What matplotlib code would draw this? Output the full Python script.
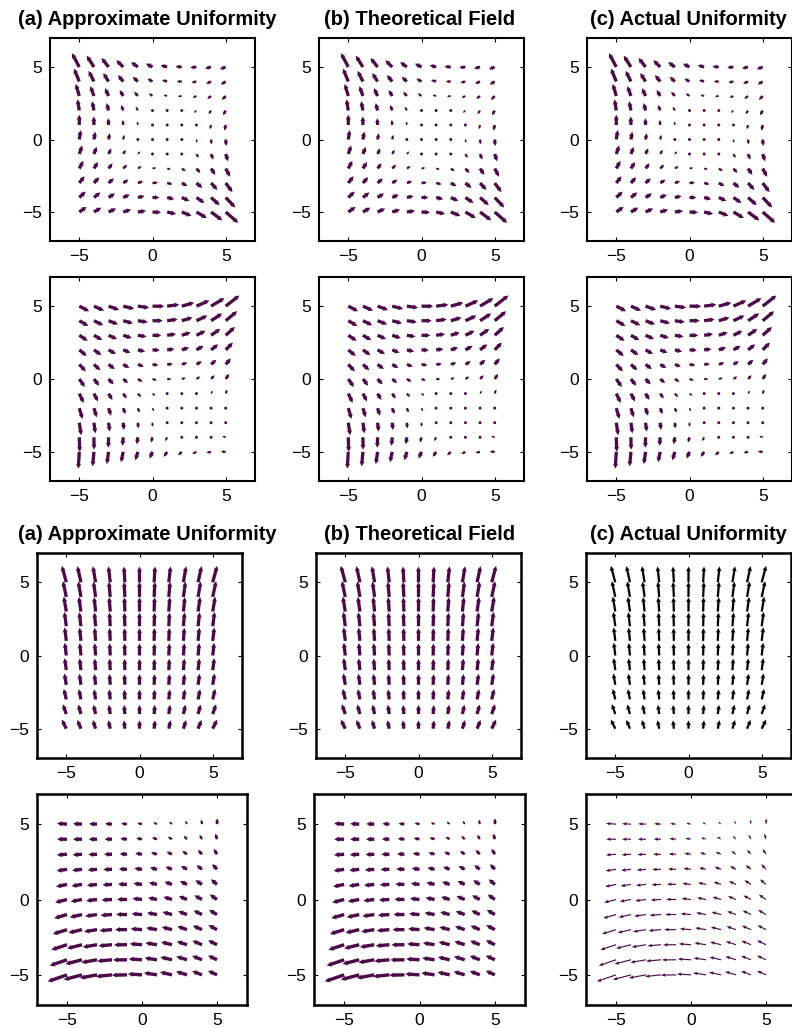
import numpy as np
import matplotlib.pyplot as plt

plt.rcParams['font.family'] = ['Liberation Sans', 'DejaVu Sans']

# sample points, same in every panel
grid = [-5, -4, -3, -2, -1, 0, 1, 2, 3, 4, 5]
ticks = [-5, 0, 5]
titles = ['(a) Approximate Uniformity', '(b) Theoretical Field', '(c) Actual Uniformity']

# field components
# each table: rows from y = 5 (top) down to y = -5, columns x = -5 .. 5
u_row1 = [
    [-0.50, -0.49, -0.48, -0.47, -0.46, -0.45, -0.44, -0.43, -0.42, -0.41, -0.40],
    [-0.36, -0.36, -0.36, -0.36, -0.35, -0.35, -0.35, -0.34, -0.34, -0.34, -0.34],
    [-0.24, -0.24, -0.24, -0.24, -0.25, -0.25, -0.25, -0.26, -0.26, -0.26, -0.26],
    [-0.12, -0.12, -0.13, -0.14, -0.14, -0.15, -0.16, -0.16, -0.17, -0.17, -0.18],
    [0.00, -0.01, -0.02, -0.03, -0.04, -0.05, -0.06, -0.06, -0.07, -0.08, -0.08],
    [0.10, 0.09, 0.08, 0.07, 0.06, 0.05, 0.05, 0.04, 0.04, 0.03, 0.03],
    [0.20, 0.19, 0.18, 0.17, 0.16, 0.16, 0.15, 0.15, 0.15, 0.15, 0.16],
    [0.28, 0.28, 0.27, 0.27, 0.26, 0.26, 0.26, 0.27, 0.27, 0.29, 0.30],
    [0.36, 0.36, 0.36, 0.36, 0.36, 0.37, 0.37, 0.39, 0.41, 0.43, 0.46],
    [0.44, 0.44, 0.44, 0.45, 0.46, 0.47, 0.49, 0.52, 0.55, 0.59, 0.65],
    [0.50, 0.51, 0.52, 0.54, 0.56, 0.58, 0.61, 0.66, 0.71, 0.77, 0.85],
]
v_row1 = [
    [0.95, 0.78, 0.62, 0.47, 0.34, 0.23, 0.12, 0.03, -0.04, -0.10, -0.15],
    [0.89, 0.73, 0.58, 0.44, 0.32, 0.20, 0.10, 0.00, -0.08, -0.15, -0.21],
    [0.83, 0.68, 0.54, 0.41, 0.29, 0.18, 0.07, -0.03, -0.12, -0.20, -0.27],
    [0.77, 0.64, 0.51, 0.38, 0.26, 0.15, 0.04, -0.06, -0.16, -0.25, -0.33],
    [0.71, 0.59, 0.47, 0.35, 0.24, 0.13, 0.02, -0.09, -0.19, -0.29, -0.39],
    [0.65, 0.54, 0.43, 0.32, 0.21, 0.10, -0.01, -0.12, -0.23, -0.34, -0.45],
    [0.59, 0.49, 0.39, 0.29, 0.18, 0.08, -0.04, -0.15, -0.27, -0.39, -0.51],
    [0.53, 0.45, 0.36, 0.26, 0.16, 0.05, -0.06, -0.18, -0.31, -0.44, -0.57],
    [0.47, 0.40, 0.32, 0.23, 0.13, 0.03, -0.09, -0.21, -0.34, -0.48, -0.63],
    [0.41, 0.35, 0.28, 0.20, 0.10, 0.00, -0.12, -0.24, -0.38, -0.53, -0.69],
    [0.35, 0.30, 0.24, 0.17, 0.08, -0.03, -0.14, -0.27, -0.42, -0.58, -0.75],
]

u_row2 = [
    [0.67, 0.69, 0.72, 0.75, 0.77, 0.80, 0.83, 0.85, 0.88, 0.91, 0.93],
    [0.62, 0.64, 0.65, 0.67, 0.68, 0.70, 0.72, 0.73, 0.75, 0.76, 0.78],
    [0.57, 0.57, 0.58, 0.59, 0.59, 0.60, 0.61, 0.61, 0.62, 0.63, 0.63],
    [0.51, 0.51, 0.51, 0.50, 0.50, 0.50, 0.50, 0.50, 0.49, 0.49, 0.49],
    [0.45, 0.44, 0.43, 0.42, 0.41, 0.40, 0.39, 0.38, 0.37, 0.36, 0.35],
    [0.38, 0.36, 0.35, 0.33, 0.32, 0.30, 0.29, 0.27, 0.26, 0.24, 0.23],
    [0.30, 0.28, 0.26, 0.24, 0.22, 0.20, 0.18, 0.16, 0.14, 0.12, 0.10],
    [0.22, 0.19, 0.17, 0.15, 0.12, 0.10, 0.08, 0.05, 0.03, 0.01, -0.02],
    [0.13, 0.10, 0.08, 0.05, 0.03, 0.00, -0.03, -0.05, -0.08, -0.10, -0.13],
    [0.03, 0.01, -0.02, -0.05, -0.07, -0.10, -0.13, -0.15, -0.18, -0.21, -0.23],
    [-0.07, -0.09, -0.12, -0.15, -0.17, -0.20, -0.23, -0.25, -0.28, -0.31, -0.33],
]
v_row2 = [
    [-0.35, -0.31, -0.26, -0.19, -0.11, -0.01, 0.11, 0.24, 0.39, 0.55, 0.73],
    [-0.36, -0.31, -0.25, -0.18, -0.10, 0.00, 0.10, 0.22, 0.35, 0.50, 0.65],
    [-0.38, -0.33, -0.26, -0.19, -0.10, -0.01, 0.09, 0.20, 0.31, 0.44, 0.57],
    [-0.42, -0.36, -0.28, -0.20, -0.12, -0.03, 0.06, 0.16, 0.27, 0.38, 0.50],
    [-0.48, -0.40, -0.32, -0.24, -0.15, -0.06, 0.03, 0.12, 0.22, 0.32, 0.42],
    [-0.55, -0.46, -0.37, -0.28, -0.19, -0.10, -0.01, 0.08, 0.17, 0.26, 0.35],
    [-0.64, -0.54, -0.44, -0.34, -0.24, -0.15, -0.06, 0.03, 0.12, 0.20, 0.28],
    [-0.74, -0.63, -0.52, -0.41, -0.31, -0.21, -0.12, -0.03, 0.06, 0.14, 0.21],
    [-0.86, -0.73, -0.61, -0.50, -0.39, -0.28, -0.18, -0.09, -0.01, 0.07, 0.15],
    [-1.00, -0.85, -0.72, -0.59, -0.48, -0.36, -0.26, -0.16, -0.07, 0.01, 0.08],
    [-1.15, -0.99, -0.84, -0.71, -0.58, -0.46, -0.34, -0.24, -0.14, -0.06, 0.02],
]

u_row3 = [
    [-0.30, -0.24, -0.18, -0.12, -0.06, 0.00, 0.06, 0.12, 0.18, 0.24, 0.30],
    [-0.23, -0.18, -0.14, -0.09, -0.05, 0.00, 0.05, 0.09, 0.14, 0.18, 0.23],
    [-0.17, -0.14, -0.10, -0.07, -0.03, 0.00, 0.03, 0.07, 0.10, 0.14, 0.17],
    [-0.13, -0.11, -0.08, -0.05, -0.03, 0.00, 0.03, 0.05, 0.08, 0.11, 0.13],
    [-0.11, -0.09, -0.06, -0.04, -0.02, 0.00, 0.02, 0.04, 0.06, 0.09, 0.11],
    [-0.10, -0.08, -0.06, -0.04, -0.02, 0.00, 0.02, 0.04, 0.06, 0.08, 0.10],
    [-0.11, -0.09, -0.06, -0.04, -0.02, 0.00, 0.02, 0.04, 0.06, 0.09, 0.11],
    [-0.13, -0.11, -0.08, -0.05, -0.03, 0.00, 0.03, 0.05, 0.08, 0.11, 0.13],
    [-0.17, -0.14, -0.10, -0.07, -0.03, 0.00, 0.03, 0.07, 0.10, 0.14, 0.17],
    [-0.23, -0.18, -0.14, -0.09, -0.05, 0.00, 0.05, 0.09, 0.14, 0.18, 0.23],
    [-0.30, -0.24, -0.18, -0.12, -0.06, 0.00, 0.06, 0.12, 0.18, 0.24, 0.30],
]
v_row3 = [
    [1.12, 1.10, 1.09, 1.08, 1.07, 1.07, 1.07, 1.08, 1.09, 1.10, 1.12],
    [1.07, 1.05, 1.04, 1.03, 1.02, 1.02, 1.02, 1.03, 1.04, 1.05, 1.07],
    [1.02, 1.00, 0.99, 0.98, 0.97, 0.97, 0.97, 0.98, 0.99, 1.00, 1.02],
    [0.97, 0.95, 0.94, 0.93, 0.92, 0.92, 0.92, 0.93, 0.94, 0.95, 0.97],
    [0.92, 0.90, 0.89, 0.88, 0.87, 0.87, 0.87, 0.88, 0.89, 0.90, 0.92],
    [0.87, 0.85, 0.84, 0.83, 0.82, 0.82, 0.82, 0.83, 0.84, 0.85, 0.87],
    [0.82, 0.80, 0.79, 0.78, 0.77, 0.77, 0.77, 0.78, 0.79, 0.80, 0.82],
    [0.77, 0.75, 0.74, 0.73, 0.72, 0.72, 0.72, 0.73, 0.74, 0.75, 0.77],
    [0.72, 0.70, 0.69, 0.68, 0.67, 0.67, 0.67, 0.68, 0.69, 0.70, 0.72],
    [0.67, 0.65, 0.64, 0.63, 0.62, 0.62, 0.62, 0.63, 0.64, 0.65, 0.67],
    [0.62, 0.60, 0.59, 0.58, 0.57, 0.57, 0.57, 0.58, 0.59, 0.60, 0.62],
]

u_row4 = [
    [-0.67, -0.60, -0.53, -0.46, -0.39, -0.32, -0.25, -0.19, -0.12, -0.05, 0.02],
    [-0.66, -0.60, -0.55, -0.49, -0.44, -0.38, -0.33, -0.27, -0.22, -0.16, -0.11],
    [-0.67, -0.62, -0.58, -0.53, -0.49, -0.45, -0.40, -0.36, -0.31, -0.27, -0.22],
    [-0.69, -0.66, -0.62, -0.58, -0.54, -0.51, -0.47, -0.43, -0.40, -0.36, -0.32],
    [-0.73, -0.70, -0.67, -0.63, -0.60, -0.57, -0.54, -0.50, -0.47, -0.44, -0.41],
    [-0.79, -0.75, -0.72, -0.69, -0.66, -0.63, -0.60, -0.57, -0.54, -0.51, -0.48],
    [-0.85, -0.82, -0.79, -0.76, -0.72, -0.69, -0.66, -0.63, -0.59, -0.56, -0.53],
    [-0.94, -0.90, -0.86, -0.83, -0.79, -0.75, -0.72, -0.68, -0.64, -0.61, -0.57],
    [-1.04, -0.99, -0.95, -0.90, -0.86, -0.81, -0.77, -0.73, -0.68, -0.64, -0.59],
    [-1.15, -1.10, -1.04, -0.99, -0.93, -0.88, -0.82, -0.77, -0.71, -0.66, -0.60],
    [-1.28, -1.21, -1.14, -1.07, -1.01, -0.94, -0.87, -0.80, -0.73, -0.66, -0.60],
]
v_row4 = [
    [0.05, 0.03, 0.02, 0.03, 0.04, 0.07, 0.11, 0.16, 0.22, 0.30, 0.38],
    [0.00, 0.00, 0.00, 0.01, 0.04, 0.07, 0.11, 0.16, 0.22, 0.29, 0.37],
    [-0.05, -0.04, -0.02, 0.00, 0.03, 0.07, 0.11, 0.16, 0.22, 0.29, 0.36],
    [-0.10, -0.07, -0.05, -0.01, 0.03, 0.07, 0.11, 0.17, 0.22, 0.28, 0.35],
    [-0.15, -0.11, -0.07, -0.03, 0.02, 0.07, 0.12, 0.17, 0.22, 0.28, 0.34],
    [-0.20, -0.14, -0.09, -0.04, 0.01, 0.07, 0.12, 0.17, 0.22, 0.27, 0.33],
    [-0.24, -0.18, -0.11, -0.05, 0.01, 0.06, 0.12, 0.17, 0.22, 0.27, 0.31],
    [-0.29, -0.21, -0.14, -0.07, 0.00, 0.06, 0.12, 0.17, 0.22, 0.26, 0.30],
    [-0.34, -0.25, -0.16, -0.08, -0.01, 0.06, 0.12, 0.18, 0.22, 0.26, 0.29],
    [-0.39, -0.28, -0.18, -0.09, -0.01, 0.06, 0.12, 0.18, 0.22, 0.26, 0.28],
    [-0.44, -0.32, -0.21, -0.11, -0.02, 0.06, 0.13, 0.18, 0.22, 0.25, 0.27],
]

W, H = 792, 1028
purple = '#4b0b47'
X, Y = np.meshgrid(grid, grid[::-1])

fig = plt.figure(figsize=(W / 100, H / 100), dpi=100)


def px_rect(left, top, w, h):
    return [left / W, 1 - (top + h) / H, w / W, h / H]


def field_panel(rect, u, v, color=purple, width=0.016, hw=1.6, hl=1.5, hal=1.35, lw=1.6):
    ax = fig.add_axes(px_rect(*rect))
    ax.quiver(X, Y, np.array(u), np.array(v), angles='xy', scale_units='xy', scale=1,
              pivot='tail', color=color, width=width, headwidth=hw,
              headlength=hl, headaxislength=hal, minshaft=1.5)
    ax.set_xlim(-7, 7)
    ax.set_ylim(-7, 7)
    ax.set_xticks(ticks)
    ax.set_yticks(ticks)
    ax.tick_params(direction='in', top=True, right=True, length=3, width=0.8,
                   labelsize=12.5, pad=6)
    for s in ax.spines.values():
        s.set_linewidth(lw)
    return ax


# top block
for left in (50, 319, 587):
    field_panel((left, 38, 205, 203), u_row1, v_row1, lw=1.5)
    field_panel((left, 277, 205, 204), u_row2, v_row2, lw=1.5)

# bottom block
field_panel((37, 553, 205, 205), u_row3, v_row3, lw=1.8)
field_panel((316, 553, 205, 205), u_row3, v_row3, lw=1.8)
field_panel((586, 553, 205, 205), u_row3, v_row3, color='black', width=0.011,
            hw=2.2, hl=2.2, hal=1.9, lw=1.8)

field_panel((37, 794, 210, 211), u_row4, v_row4, lw=1.8)
field_panel((314, 794, 211, 211), u_row4, v_row4, lw=1.8)
field_panel((586, 794, 210, 211), u_row4, v_row4, width=0.0055, hw=3.0, hl=4.0, hal=3.6, lw=1.8)

for cx, t in zip((147, 420, 688), titles):
    for base in (25, 540):
        fig.text(cx / W, 1 - base / H, t, ha='center', va='baseline',
                 fontsize=14.5, fontweight='bold')

fig.savefig('out.png', dpi=100)
